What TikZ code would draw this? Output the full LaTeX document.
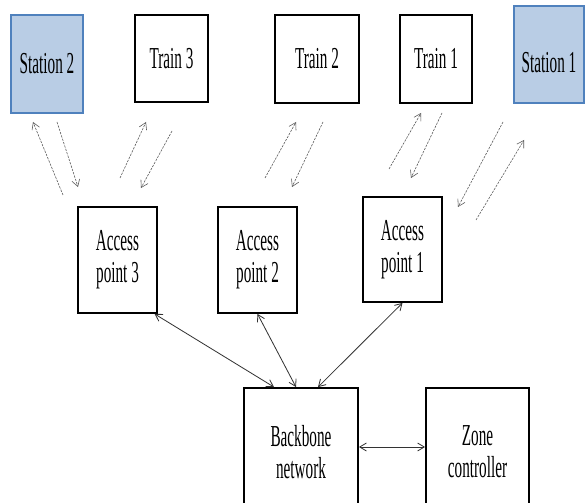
\documentclass[tikz,border=0pt]{standalone}
\usepackage{fontspec}
\newfontfamily\boxfont{Liberation Serif}[FakeStretch=0.5]
\usepackage{tikz}
\usetikzlibrary{arrows.meta, positioning}
\definecolor{stationfill}{HTML}{B9CDE5}
\definecolor{stationdraw}{HTML}{4F81BD}
\newcommand{\radiocolor}{black!65}
\newcommand{\linkcolor}{black!80}

\begin{document}
\begin{tikzpicture}[
      % GLOBAL CFG
      font=\boxfont\fontsize{26}{27.5}\selectfont,
      >={Straight Barb[length=2mm,width=2.4mm]},
      % Styles
      unit/.style={% For trains, access points, backbone
        rectangle,
        draw,
        line width=1.6pt,
        align=center,
        inner sep=1pt
      },
      station/.style={% For stations
        rectangle,
        draw=stationdraw,
        fill=stationfill,
        line width=1.6pt,
        align=center,
        inner sep=1pt
      },
      radio/.style={% Wireless links
        dash pattern=on 2pt off 1pt,
        line width=0.5pt,
        draw=\radiocolor,
        ->
      },
      wired/.style={% Cable links
        line width=0.7pt,
        draw=\linkcolor,
        <->
      }
      ]

      \useasboundingbox (0,0) rectangle (17.58,15.06);

      % Top row: stations and trains
      \node [station, minimum width=2.16cm, minimum height=2.94cm] (station2) at (1.41,13.14) {Station 2};
      \node [unit, minimum width=2.19cm, minimum height=2.61cm] (train3) at (5.145,13.305) {Train 3};
      \node [unit, minimum width=2.52cm, minimum height=2.64cm] (train2) at (9.51,13.29) {Train 2};
      \node [unit, minimum width=2.16cm, minimum height=2.64cm] (train1) at (13.08,13.29) {Train 1};
      \node [station, minimum width=2.1cm, minimum height=2.91cm] (station1) at (16.47,13.425) {};
      \node (station1text) at ([yshift=-0.25cm]station1.center) {Station 1};

      % Access points
      \node [unit, minimum width=2.37cm, minimum height=3.18cm] (ap3) at (3.525,7.26) {Access\\point 3};
      \node [unit, minimum width=2.37cm, minimum height=3.18cm] (ap2) at (7.725,7.26) {Access\\point 2};
      \node [unit, minimum width=2.37cm, minimum height=3.15cm] (ap1) at (12.075,7.575) {Access\\point 1};

      % Backbone and zone controller
      \node [unit, minimum width=3.42cm, minimum height=3.84cm] (backbone) at (9.03,1.5) {Backbone\\network};
      \node [unit, minimum width=3.09cm, minimum height=3.84cm] (zone) at (14.325,1.5) {Zone\\controller};

      % Radio link end points
      \coordinate (s2up0) at (1.89,9.21);   \coordinate (s2up1) at (0.99,11.4);
      \coordinate (s2dn0) at (1.71,11.4);   \coordinate (s2dn1) at (2.34,9.45);
      \coordinate (t3up0) at (3.6,9.72);    \coordinate (t3up1) at (4.38,11.4);
      \coordinate (t3dn0) at (5.16,11.13);  \coordinate (t3dn1) at (4.23,9.42);
      \coordinate (t2up0) at (7.95,9.72);   \coordinate (t2up1) at (8.88,11.4);
      \coordinate (t2dn0) at (9.69,11.4);   \coordinate (t2dn1) at (8.76,9.45);
      \coordinate (t1up0) at (11.67,9.99);  \coordinate (t1up1) at (12.63,11.67);
      \coordinate (t1dn0) at (13.26,11.67); \coordinate (t1dn1) at (12.33,9.72);
      \coordinate (s1dn0) at (15.09,11.4);  \coordinate (s1dn1) at (13.74,8.85);
      \coordinate (s1up0) at (14.28,8.46);  \coordinate (s1up1) at (15.72,10.86);

      \draw [radio] (s2up0) -- (s2up1);
      \draw [radio] (s2dn0) -- (s2dn1);
      \draw [radio] (t3up0) -- (t3up1);
      \draw [radio] (t3dn0) -- (t3dn1);
      \draw [radio] (t2up0) -- (t2up1);
      \draw [radio] (t2dn0) -- (t2dn1);
      \draw [radio] (t1up0) -- (t1up1);
      \draw [radio] (t1dn0) -- (t1dn1);
      \draw [radio] (s1dn0) -- (s1dn1);
      \draw [radio] (s1up0) -- (s1up1);

      % Wired links
      \draw [wired] ([xshift=-0.1cm]ap3.south east) -- ([xshift=-0.81cm]backbone.north);
      \draw [wired] (ap2.south) -- ([xshift=-0.15cm]backbone.north);
      \draw [wired] (ap1.south) -- ([xshift=0.51cm]backbone.north);
      \draw [wired] ([yshift=0.15cm]backbone.east) -- ([yshift=0.15cm]zone.west);

    \end{tikzpicture}
\end{document}
